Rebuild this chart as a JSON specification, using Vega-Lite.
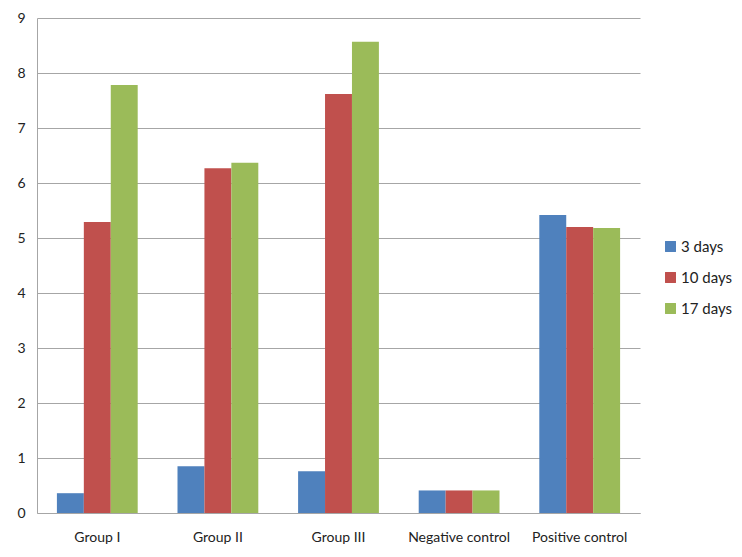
{
  "$schema": "https://vega.github.io/schema/vega-lite/v6.json",
  "width": 603,
  "height": 495,
  "autosize": {"type": "none"},
  "padding": {"left": 37, "top": 18, "right": 102, "bottom": 44},
  "background": "white",
  "data": {
    "values": [
      {"group": "Group I", "series": "3 days", "value": 0.36},
      {"group": "Group I", "series": "10 days", "value": 5.29},
      {"group": "Group I", "series": "17 days", "value": 7.78},
      {"group": "Group II", "series": "3 days", "value": 0.85},
      {"group": "Group II", "series": "10 days", "value": 6.27},
      {"group": "Group II", "series": "17 days", "value": 6.37},
      {"group": "Group III", "series": "3 days", "value": 0.76},
      {"group": "Group III", "series": "10 days", "value": 7.62},
      {"group": "Group III", "series": "17 days", "value": 8.57},
      {"group": "Negative control", "series": "3 days", "value": 0.41},
      {"group": "Negative control", "series": "10 days", "value": 0.41},
      {"group": "Negative control", "series": "17 days", "value": 0.41},
      {"group": "Positive control", "series": "3 days", "value": 5.42},
      {"group": "Positive control", "series": "10 days", "value": 5.2},
      {"group": "Positive control", "series": "17 days", "value": 5.18}
    ]
  },
  "mark": {"type": "bar"},
  "encoding": {
    "x": {
      "field": "group",
      "type": "nominal",
      "sort": null,
      "scale": {"paddingInner": 0.33, "paddingOuter": 0.165},
      "axis": {
        "title": null,
        "labelAngle": 0,
        "ticks": false,
        "domainColor": "#a6a6a6",
        "labelPadding": 17,
        "labelFont": "Lato",
        "labelFontSize": 14,
        "labelColor": "#222222"
      }
    },
    "xOffset": {
      "field": "series",
      "type": "nominal",
      "sort": ["3 days", "10 days", "17 days"],
      "scale": {"paddingInner": 0, "paddingOuter": 0}
    },
    "y": {
      "field": "value",
      "type": "quantitative",
      "scale": {"domain": [0, 9], "nice": false},
      "axis": {
        "title": null,
        "values": [0, 1, 2, 3, 4, 5, 6, 7, 8, 9],
        "labelOverlap": false,
        "ticks": false,
        "domainColor": "#a6a6a6",
        "gridColor": "#a6a6a6",
        "labelPadding": 12,
        "labelFont": "Lato",
        "labelFontSize": 14,
        "labelColor": "#222222"
      }
    },
    "color": {
      "field": "series",
      "type": "nominal",
      "sort": ["3 days", "10 days", "17 days"],
      "scale": {"domain": ["3 days", "10 days", "17 days"], "range": ["#4F81BD", "#C0504D", "#9BBB59"]},
      "legend": {
        "title": null,
        "orient": "none",
        "legendX": 626,
        "legendY": 221,
        "symbolType": "square",
        "symbolSize": 120,
        "symbolStrokeWidth": 0,
        "labelFont": "Lato",
        "labelFontSize": 15,
        "labelColor": "#222222",
        "rowPadding": 15,
        "labelOffset": 3
      }
    }
  },
  "config": {
    "view": {"stroke": null},
    "axis": {"gridOpacity": 1}
  }
}
